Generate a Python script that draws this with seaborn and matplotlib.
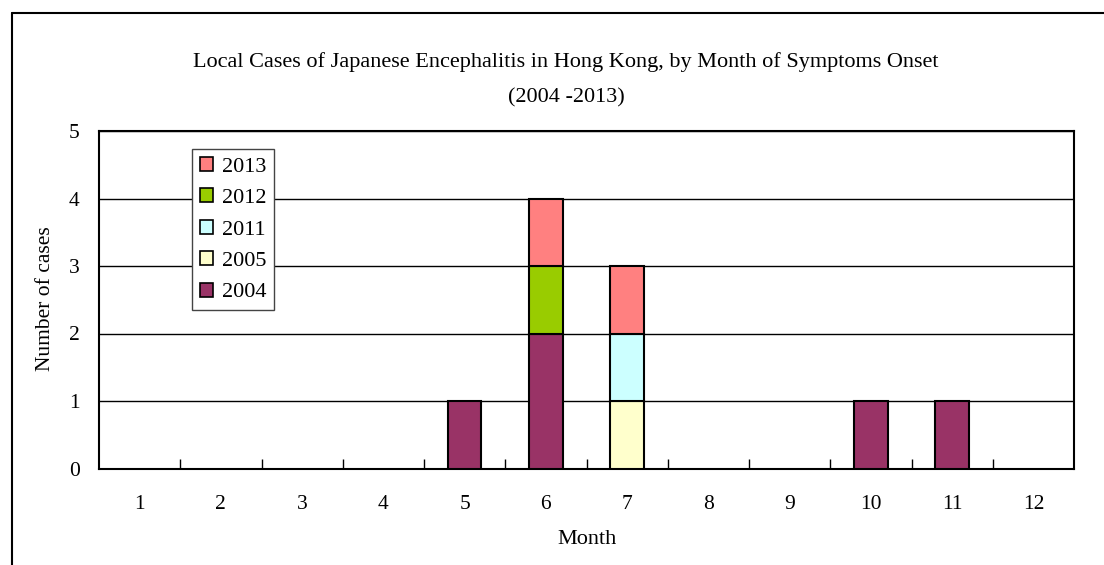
import numpy as np
import matplotlib
matplotlib.use("Agg")
import matplotlib.pyplot as plt
import seaborn as sns
from matplotlib.lines import Line2D
from matplotlib.patches import Patch

# Local Japanese Encephalitis cases by month of symptom onset
months = list(range(1, 13))
cases_2004 = [0, 0, 0, 0, 1, 2, 0, 0, 0, 1, 1, 0]
cases_2005 = [0, 0, 0, 0, 0, 0, 1, 0, 0, 0, 0, 0]
cases_2011 = [0, 0, 0, 0, 0, 0, 1, 0, 0, 0, 0, 0]
cases_2012 = [0, 0, 0, 0, 0, 1, 0, 0, 0, 0, 0, 0]
cases_2013 = [0, 0, 0, 0, 0, 1, 1, 0, 0, 0, 0, 0]
years = ["2004", "2005", "2011", "2012", "2013"]
series = [cases_2004, cases_2005, cases_2011, cases_2012, cases_2013]
colors = ["#993366", "#FFFFCC", "#CCFFFF", "#99CC00", "#FF8080"]

title_lines = ["Local Cases of Japanese Encephalitis in Hong Kong, by Month of Symptoms Onset",
               "(2004 -2013)"]
x_title = "Month"
y_title = "Number of cases"

sns.set_theme(style="white")
plt.rcParams["font.family"] = ["Liberation Serif", "DejaVu Serif"]
for key in ["text.color", "axes.labelcolor", "xtick.color", "ytick.color"]:
    plt.rcParams[key] = "black"

W, H = 1104, 565
FS = 16
FS_TICK = 15.5
fig = plt.figure(figsize=(W / 100, H / 100), dpi=100)
ax = fig.add_axes([99 / W, 1 - 468.5 / H, (1074 - 99) / W, (468.5 - 131) / H])

month_labels = [str(m) for m in months]
bottom = np.zeros(len(months))
for year, vals, col in zip(years, series, colors):
    vals = np.array(vals, dtype=float)
    mask = vals > 0
    idx = np.where(mask)[0]
    sns.barplot(x=[month_labels[i] for i in idx], y=vals[mask], order=month_labels,
                color=col, saturation=1, width=0.41, edgecolor="black", linewidth=1.5,
                bottom=bottom[mask], errorbar=None, ax=ax, zorder=3)
    bottom += vals

ax.set_xlim(-0.5, len(months) - 0.5)
ax.set_ylim(0, 5)
ax.set_yticks(range(6))
ax.set_xticks(range(len(months)))
ax.set_xticklabels(month_labels)
ax.set_xlabel("")
ax.set_ylabel("")
ax.tick_params(axis="y", length=0, pad=14, labelsize=FS_TICK)
ax.tick_params(axis="x", which="major", length=0, pad=19, labelsize=FS_TICK)
ax.set_xticks(np.arange(0.5, len(months) - 1), minor=True)
ax.tick_params(axis="x", which="minor", bottom=True, direction="in", length=7,
               width=1, color="black")
ax.yaxis.grid(True, color="black", lw=1)
ax.set_axisbelow(True)
for sp in ax.spines.values():
    sp.set_visible(True)
    sp.set_color("black")
    sp.set_linewidth(1.5)

handles = [Patch(facecolor=c, edgecolor="black", lw=1.2, label=y)
           for y, c in zip(years, colors)][::-1]
leg = ax.legend(handles=handles, loc="upper left",
                bbox_to_anchor=(192 / W, 1 - 149 / H), bbox_transform=fig.transFigure,
                borderaxespad=0, frameon=True, fancybox=False, framealpha=1,
                edgecolor="#444444", fontsize=FS, handlelength=0.6, handleheight=0.6,
                handletextpad=0.4, labelspacing=0.52, borderpad=0.35)
leg.get_frame().set_linewidth(1)

fig.text(566 / W, 1 - 62 / H, title_lines[0], ha="center", va="center", fontsize=FS)
fig.text(566 / W, 1 - 98 / H, title_lines[1], ha="center", va="center", fontsize=FS)
fig.text(587 / W, 1 - 540 / H, x_title, ha="center", va="center", fontsize=FS)
fig.text(45 / W, 1 - 299 / H, y_title, ha="center", va="center", rotation=90,
         fontsize=FS_TICK)

# outer frame (top and left edges)
fig.add_artist(Line2D([12 / W, 1], [1 - 13 / H, 1 - 13 / H], transform=fig.transFigure,
                      color="black", lw=1.5))
fig.add_artist(Line2D([12 / W, 12 / W], [0, 1 - 13 / H], transform=fig.transFigure,
                      color="black", lw=1.5))

fig.savefig("out.png", dpi=100)
